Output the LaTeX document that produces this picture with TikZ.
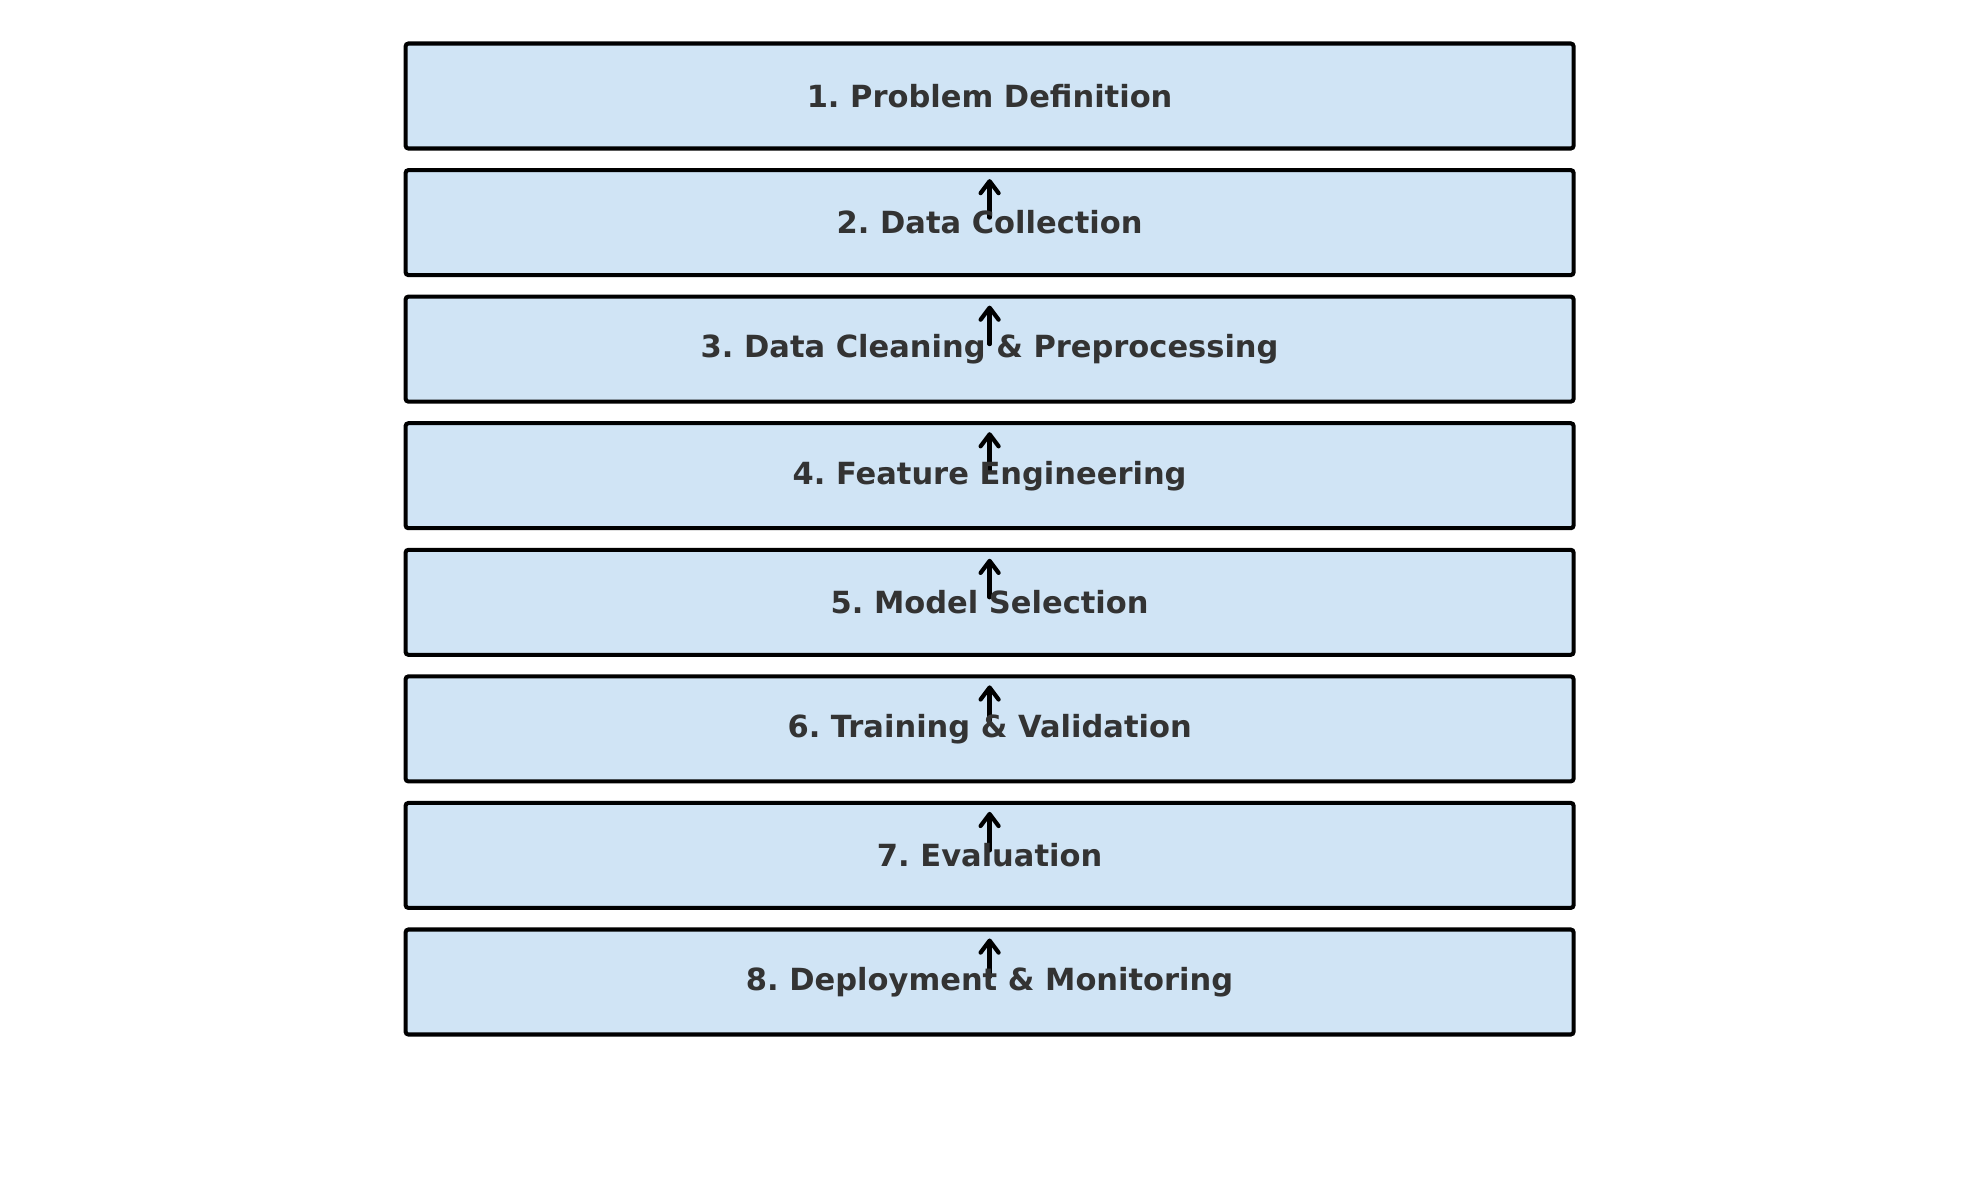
\documentclass[tikz,border=0pt]{standalone}
\usepackage{fontspec}
\setmainfont{DejaVu Sans}
\usetikzlibrary{arrows.meta}
\definecolor{stepfill}{RGB}{208,228,245}
\definecolor{stepink}{RGB}{51,51,51}
\frenchspacing

\begin{document}
\begin{tikzpicture}[
    stepbox/.style={rectangle, draw=black, line width=1.15pt, fill=stepfill, rounded corners=0.8pt,
        minimum width=11.68cm, minimum height=1.05cm, inner sep=0pt},
    steplabel/.style={text=stepink, font=\fontsize{8.68}{10}\selectfont\bfseries, inner sep=0pt},
    uparrow/.style={line width=1.2pt, line cap=round, -{Straight Barb[length=1.2mm, width=1.8mm, line cap=round, line join=round]},
        shorten <=0.05cm, shorten >=0.11cm}]

    \useasboundingbox (0,0) rectangle (19.79,-11.80);

    % Posizioni dei riquadri
    \node[stepbox] (s1) at (9.896,-0.960) {};
    \node[stepbox] (s2) at (9.896,-2.226) {};
    \node[stepbox] (s3) at (9.896,-3.491) {};
    \node[stepbox] (s4) at (9.896,-4.757) {};
    \node[stepbox] (s5) at (9.896,-6.023) {};
    \node[stepbox] (s6) at (9.896,-7.289) {};
    \node[stepbox] (s7) at (9.896,-8.554) {};
    \node[stepbox] (s8) at (9.896,-9.820) {};

    % Frecce
    \draw[uparrow] (s2.center) -- (s2.north);
    \draw[uparrow] (s3.center) -- (s3.north);
    \draw[uparrow] (s4.center) -- (s4.north);
    \draw[uparrow] (s5.center) -- (s5.north);
    \draw[uparrow] (s6.center) -- (s6.north);
    \draw[uparrow] (s7.center) -- (s7.north);
    \draw[uparrow] (s8.center) -- (s8.north);

    % Testi sopra le frecce
    \node[steplabel] (t1) at (s1.center) {1. Problem Definition};
    \node[steplabel] (t2) at (s2.center) {2. Data Collection};
    \node[steplabel] (t3) at (s3.center) {3. Data Cleaning \& Preprocessing};
    \node[steplabel] (t4) at (s4.center) {4. Feature Engineering};
    \node[steplabel] (t5) at (s5.center) {5. Model Selection};
    \node[steplabel] (t6) at (s6.center) {6. Training \& Validation};
    \node[steplabel] (t7) at (s7.center) {7. Evaluation};
    \node[steplabel] (t8) at (s8.center) {8. Deployment \& Monitoring};
\end{tikzpicture}
\end{document}
